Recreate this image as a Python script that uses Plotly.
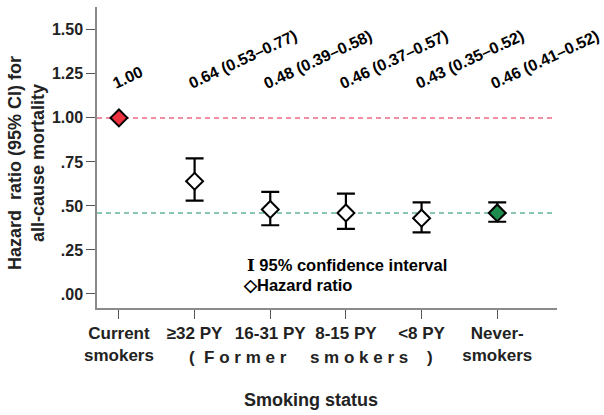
import plotly.graph_objects as go

categories = ["Current<br>smokers", "≥32 PY", "16-31 PY", "8-15 PY", "&lt;8 PY", "Never-<br>smokers"]
hazard_ratio = [1.00, 0.64, 0.48, 0.46, 0.43, 0.46]
ci_low = [None, 0.53, 0.39, 0.37, 0.35, 0.41]
ci_high = [None, 0.77, 0.58, 0.57, 0.52, 0.52]
labels = ["1.00", "0.64 (0.53–0.77)", "0.48 (0.39–0.58)", "0.46 (0.37–0.57)",
          "0.43 (0.35–0.52)", "0.46 (0.41–0.52)"]
fill_colors = ["#ee3340", "white", "white", "white", "white", "#1e8c4c"]
y_tickvals = [0, 0.25, 0.5, 0.75, 1.0, 1.25, 1.5]
y_ticktext = [".00", ".25", ".50", ".75", "1.00", "1.25", "1.50"]
ref_current = 1.00
ref_never = 0.46

FONT = "Arial, Liberation Sans, sans-serif"
xs = list(range(len(categories)))

# plot area in pixels (for placing paper-referenced text)
L, R, T, B = 97, 557, 7, 308
def px(x):
    return (x - L) / (R - L)
def py(y):
    return (B - y) / (B - T)

err_plus = [None if h is None else h - v for v, h in zip(hazard_ratio, ci_high)]
err_minus = [None if l is None else v - l for v, l in zip(hazard_ratio, ci_low)]

fig = go.Figure()
fig.add_trace(go.Scatter(
    x=xs, y=hazard_ratio, mode="markers",
    marker=dict(symbol="diamond", size=13, color=fill_colors,
                line=dict(color="black", width=2)),
    error_y=dict(type="data", symmetric=False, array=err_plus, arrayminus=err_minus,
                 color="black", thickness=2.2, width=9),
    showlegend=False, cliponaxis=False, hoverinfo="skip",
))

fig.add_shape(type="line", xref="paper", x0=0, x1=0.995, yref="y", y0=ref_current, y1=ref_current,
              line=dict(color="#ee6a86", width=1.5, dash="5px,4px"), layer="below")
fig.add_shape(type="line", xref="paper", x0=0, x1=0.995, yref="y", y0=ref_never, y1=ref_never,
              line=dict(color="#64b49c", width=1.5, dash="5px,4px"), layer="below")

for x, t in zip(xs, labels):
    fig.add_annotation(x=x - 0.155, y=1.135, text=f"<b>{t}</b>", textangle=-25,
                       xanchor="left", yanchor="bottom", showarrow=False,
                       font=dict(family=FONT, size=16, color="black"))

# legend as text
fig.add_annotation(xref="paper", yref="paper", x=px(245), y=py(265),
                   text="<span style='font-family:DejaVu Serif'><b>I</b></span><b> 95% confidence interval</b>",
                   xanchor="left", yanchor="middle",
                   showarrow=False, font=dict(family=FONT, size=16.5, color="black"))
fig.add_annotation(xref="paper", yref="paper", x=px(241), y=py(285),
                   text="<b>◇Hazard ratio</b>", xanchor="left", yanchor="middle",
                   showarrow=False, font=dict(family=FONT, size=16.5, color="black"))

# former smokers group label
fig.add_annotation(xref="paper", yref="paper", x=px(187), y=py(357),
                   text="<b>(  F o r m e r     s m o k e r s    )</b>", xanchor="left",
                   yanchor="middle", showarrow=False,
                   font=dict(family=FONT, size=17, color="#222"))

# axis titles
fig.add_annotation(xref="paper", yref="paper", x=px(311), y=py(400),
                   text="<b>Smoking status</b>", xanchor="center", yanchor="middle",
                   showarrow=False, font=dict(family=FONT, size=18, color="#222"))
fig.add_annotation(xref="paper", yref="paper", x=px(26), y=py(163),
                   text="<b>Hazard  ratio (95% CI) for<br>all-cause mortality</b>",
                   textangle=-90, xanchor="center", yanchor="middle", showarrow=False,
                   font=dict(family=FONT, size=18, color="#222"))

fig.update_layout(
    width=604, height=415,
    margin=dict(l=L, r=604 - R, t=T, b=415 - B, autoexpand=False),
    paper_bgcolor="white", plot_bgcolor="white",
    font=dict(family=FONT, size=14, color="#222"),
    xaxis=dict(range=[-0.29, 5.79], tickmode="array", tickvals=xs,
               ticktext=[f"<b>{c}</b>" for c in categories], automargin=False,
               showgrid=False, zeroline=False, showline=True, linecolor="#8a8a8a",
               linewidth=1.5, ticks="outside", ticklen=9, tickcolor="#555", tickwidth=1.2,
               tickfont=dict(family=FONT, size=17, color="#222")),
    yaxis=dict(range=[-0.08, 1.63], tickmode="array", tickvals=y_tickvals,
               ticktext=[f"<b>{t}</b>" for t in y_ticktext], automargin=False,
               showgrid=False, zeroline=False, showline=True, linecolor="#8a8a8a",
               linewidth=1.5, ticks="outside", ticklen=9, tickcolor="#555", tickwidth=1.2,
               tickfont=dict(family=FONT, size=16, color="#222")),
)

fig.write_html("out.html", config={"displayModeBar": False},
               post_script="document.body.style.margin='0';document.body.style.overflow='hidden';")
